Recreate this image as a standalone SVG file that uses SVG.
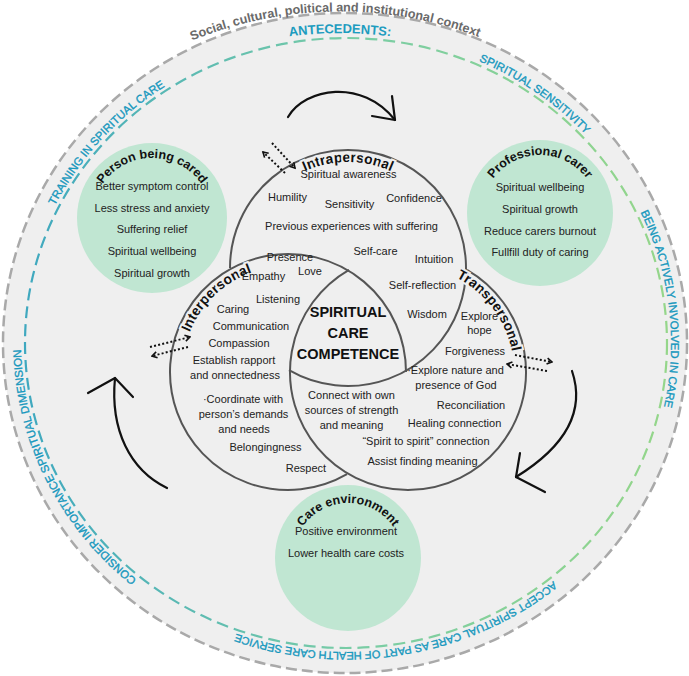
<svg xmlns="http://www.w3.org/2000/svg" width="689" height="676" viewBox="0 0 689 676">
<style>
.t{font-family:"Liberation Sans",Arial,sans-serif;font-size:11px;fill:#222;text-anchor:middle}
.gt{font-family:"Liberation Sans",Arial,sans-serif;font-size:12.5px;font-weight:bold;fill:#111}
.vt{font-family:"Liberation Sans",Arial,sans-serif;font-size:14px;font-weight:bold;fill:#111;stroke:#efefef;stroke-width:4;paint-order:stroke}
.ring{font-family:"Liberation Sans",Arial,sans-serif;font-size:11.3px;fill:#1597bd;stroke:#1597bd;stroke-width:0.35}
.core{font-family:"Liberation Sans",Arial,sans-serif;font-size:14.5px;font-weight:bold;fill:#111;text-anchor:middle}
.venn{fill:none;stroke:#555;stroke-width:2}
.green{fill:#c0e6d2}
.dot{fill:none;stroke:#111;stroke-width:2;stroke-dasharray:2 2.2;marker-end:url(#ah)}
.big{fill:none;stroke:#111;stroke-width:2.2;stroke-linecap:round;stroke-linejoin:round}
</style>
<defs>
<linearGradient id="ringGrad" x1="0" y1="0" x2="1" y2="0">
<stop offset="0" stop-color="#3fa8bf"/>
<stop offset="0.5" stop-color="#78cca6"/>
<stop offset="1" stop-color="#95d68a"/>
</linearGradient>
<marker id="ah" viewBox="0 0 8 8" refX="6.5" refY="4" markerWidth="8" markerHeight="8" markerUnits="userSpaceOnUse" orient="auto">
<path d="M1.5 1 L6.5 4 L1.5 7" fill="none" stroke="#111" stroke-width="1.6"/>
</marker>
<path id="pSocial" d="M -50 401.5 A 390 390 0 0 1 730 401.5"/>
<path id="pAnte" d="M -60 433 A 400 400 0 0 1 740 433"/>
<path id="pTrain" d="M 27.0 284.0 A 325 309 0 0 1 240.2 50.8"/>
<path id="pSens" d="M 408.0 39.7 A 325 309 0 0 1 630.2 193.2"/>
<path id="pBeing" d="M 607.3 159.2 A 325 309 0 0 1 644.1 466.2"/>
<path id="pAccept" d="M 595.0 541.6 A 325 309 0 0 1 183.5 610.6"/>
<path id="pConsider" d="M 161.9 597.6 A 325 309 0 0 1 22.0 318.7"/>
<path id="pIntra" d="M 242 268 A 106 106 0 0 1 454 268"/>
<path id="pInter" d="M 185.1 397.6 A 106 106 0 0 1 317.2 270.1"/>
<path id="pTrans" d="M 395.1 266.8 A 106 106 0 0 1 505.6 413.4"/>
<path id="pPerson" d="M 92 218 A 60 60 0 0 1 212 218"/>
<path id="pProf" d="M 482 213 A 58 58 0 0 1 598 213"/>
<path id="pEnv" d="M 293 558 A 55 55 0 0 1 403 558"/>
</defs>

<g id="context">
<ellipse cx="345" cy="343" rx="342" ry="330" fill="#efefef" stroke="#a9a9a9" stroke-width="2.5" stroke-dasharray="11 5"/>
<text font-family="Liberation Sans, Arial, sans-serif" font-size="12.6" font-weight="bold" fill="#6a6a6a" text-anchor="middle"><textPath href="#pSocial" startOffset="49.6%">Social, cultural, political and institutional context</textPath></text>
</g>

<g id="antecedents">
<ellipse cx="346" cy="343" rx="321" ry="305" fill="none" stroke="url(#ringGrad)" stroke-width="2.2" stroke-dasharray="12 6"/>
<text font-family="Liberation Sans, Arial, sans-serif" font-size="13" font-weight="bold" fill="#1d9cbf" text-anchor="middle"><textPath href="#pAnte" startOffset="50%">ANTECEDENTS:</textPath></text>
<text class="ring" text-anchor="middle"><textPath href="#pTrain" startOffset="50%">TRAINING IN SPIRITUAL CARE</textPath></text>
<text class="ring" text-anchor="middle"><textPath href="#pSens" startOffset="50%">SPIRITUAL SENSITIVITY</textPath></text>
<text class="ring" text-anchor="middle"><textPath href="#pBeing" startOffset="50%">BEING ACTIVELY INVOLVED IN CARE</textPath></text>
<text class="ring" text-anchor="middle" style="font-size:11px"><textPath href="#pAccept" startOffset="50%">ACCEPT SPIRITUAL CARE AS PART OF HEALTH CARE SERVICE</textPath></text>
<text class="ring" text-anchor="middle"><textPath href="#pConsider" startOffset="50%">CONSIDER IMPORTANCE SPIRITUAL DIMENSION</textPath></text>
</g>

<g id="person-being-cared">
<circle class="green" cx="152" cy="218" r="75"/>
<text class="gt" text-anchor="middle"><textPath href="#pPerson" startOffset="50%">Person being cared</textPath></text>
<text class="t" x="152" y="190">Better symptom control</text>
<text class="t" x="152" y="211.7">Less stress and anxiety</text>
<text class="t" x="152" y="233.3">Suffering relief</text>
<text class="t" x="152" y="255">Spiritual wellbeing</text>
<text class="t" x="152" y="276.7">Spiritual growth</text>
</g>

<g id="professional-carer">
<circle class="green" cx="540" cy="213" r="73"/>
<text class="gt" text-anchor="middle"><textPath href="#pProf" startOffset="50%">Professional carer</textPath></text>
<text class="t" x="540" y="191">Spiritual wellbeing</text>
<text class="t" x="540" y="213">Spiritual growth</text>
<text class="t" x="540" y="235">Reduce carers burnout</text>
<text class="t" x="540" y="256">Fullfill duty of caring</text>
</g>

<g id="care-environment">
<circle class="green" cx="348" cy="558" r="73"/>
<text class="gt" text-anchor="middle"><textPath href="#pEnv" startOffset="50%">Care environment</textPath></text>
<text class="t" x="346" y="535">Positive environment</text>
<text class="t" x="346" y="557">Lower health care costs</text>
</g>

<g id="intrapersonal">
<path class="venn" d="M 230 268 A 118 118 0 1 1 289 370.2"/>
<text class="vt" text-anchor="middle"><textPath href="#pIntra" startOffset="50%">Intrapersonal</textPath></text>
<text class="t" x="348.5" y="178">Spiritual awareness</text>
<text class="t" x="287.5" y="201">Humility</text>
<text class="t" x="349.5" y="208">Sensitivity</text>
<text class="t" x="414" y="202">Confidence</text>
<text class="t" x="351.5" y="230">Previous experiences with suffering</text>
<text class="t" x="375.5" y="255">Self-care</text>
<text class="t" x="434" y="263">Intuition</text>
<text class="t" x="422.5" y="289">Self-reflection</text>
<text class="t" x="427" y="318">Wisdom</text>
</g>

<g id="interpersonal">
<path class="venn" d="M 347 474.2 A 118 118 0 1 1 406 372"/>
<text class="vt" text-anchor="middle"><textPath href="#pInter" startOffset="50%">Interpersonal</textPath></text>
<text class="t" x="290" y="261">Presence</text>
<text class="t" x="310" y="275">Love</text>
<text class="t" x="263.5" y="280">Empathy</text>
<text class="t" x="278" y="302.5">Listening</text>
<text class="t" x="233" y="313">Caring</text>
<text class="t" x="251" y="330">Communication</text>
<text class="t" x="239" y="347">Compassion</text>
<text class="t" x="234" y="364">Establish rapport</text>
<text class="t" x="235" y="379">and onnectedness</text>
<text class="t" x="243" y="403">·Coordinate with</text>
<text class="t" x="243.5" y="418">person’s demands</text>
<text class="t" x="244" y="433">and needs</text>
<text class="t" x="265.5" y="451">Belongingness</text>
<text class="t" x="306" y="472">Respect</text>
</g>

<g id="transpersonal">
<path class="venn" d="M 467 269.8 A 118 118 0 1 1 349 269.8"/>
<text class="vt" text-anchor="middle"><textPath href="#pTrans" startOffset="50%">Transpersonal</textPath></text>
<text class="t" x="479.5" y="320">Explore</text>
<text class="t" x="479.5" y="334">hope</text>
<text class="t" x="475" y="355">Forgiveness</text>
<text class="t" x="455.5" y="374">·Explore nature and</text>
<text class="t" x="456" y="389">presence of God</text>
<text class="t" x="471" y="409">Reconciliation</text>
<text class="t" x="454.5" y="427">Healing connection</text>
<text class="t" x="426" y="445">“Spirit to spirit” connection</text>
<text class="t" x="422.5" y="465">Assist finding meaning</text>
<text class="t" x="351.5" y="399">Connect with own</text>
<text class="t" x="351.5" y="414">sources of strength</text>
<text class="t" x="351.5" y="429">and meaning</text>
</g>

<g id="spiritual-care-competence">
<text class="core" x="348" y="317">SPIRITUAL</text>
<text class="core" x="348" y="338">CARE</text>
<text class="core" x="348" y="359">COMPETENCE</text>
</g>

<g id="connectors">
<path class="big" d="M 288 117 C 305 88, 362 78, 395 120"/>
<path class="big" d="M 372 116 L 395 120 L 392 96"/>
<path class="big" d="M 572 371 Q 592 430 516 477"/>
<path class="big" d="M 520 453 L 516 477 L 545 492"/>
<path class="big" d="M 167 488 C 130 470, 110 430, 115 378"/>
<path class="big" d="M 88 393 L 115 378 L 133 397"/>
<line class="dot" x1="272" y1="143" x2="295" y2="168"/>
<line class="dot" x1="285" y1="173" x2="263" y2="152"/>
<line class="dot" x1="150" y1="347" x2="190" y2="337"/>
<line class="dot" x1="188" y1="347" x2="152" y2="356"/>
<line class="dot" x1="515" y1="355" x2="552" y2="362"/>
<line class="dot" x1="547" y1="371" x2="507" y2="364"/>
</g>
</svg>
